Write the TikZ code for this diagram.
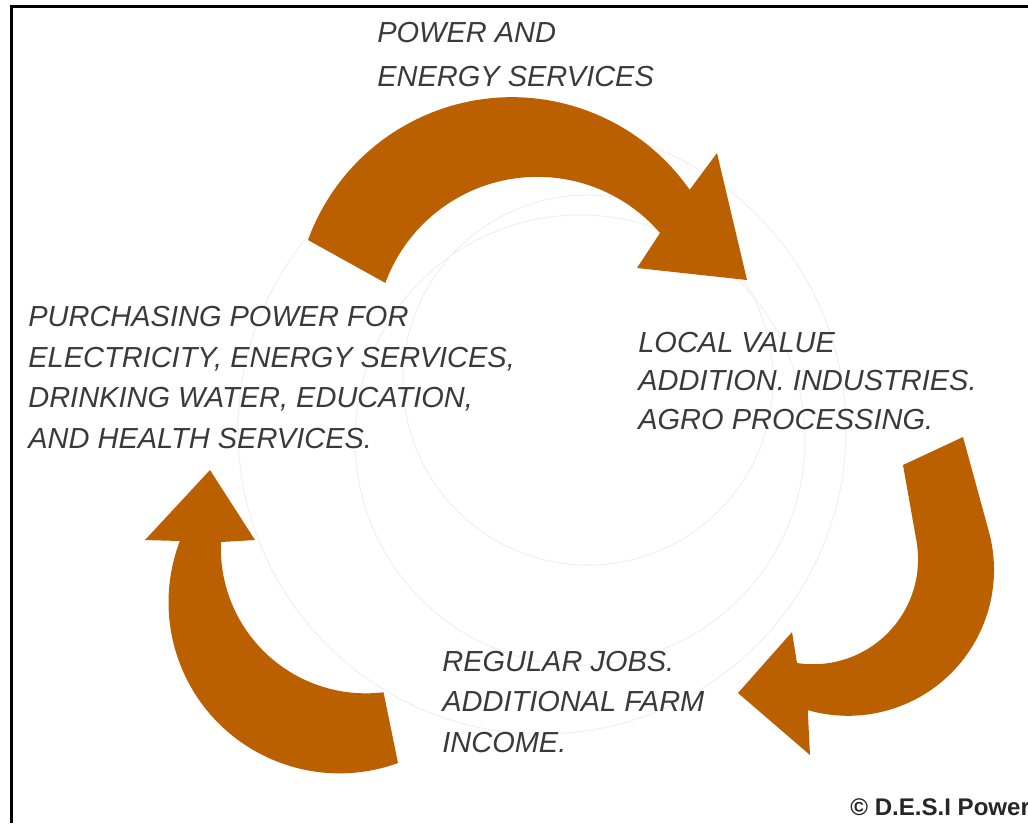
\documentclass[tikz,border=0pt]{standalone}
\usepackage{fontspec}
\setmainfont{Liberation Sans}
\usepackage{tikz}
\definecolor{CycleBrown}{RGB}{187,96,0}
\definecolor{HandGray}{RGB}{58,58,58}

\begin{document}
\begin{tikzpicture}[x=0.02cm, y=-0.02cm,
        handtext/.style={anchor=west, inner sep=0pt, align=left, text=HandGray,
            font=\fontsize{16.5}{23}\selectfont\itshape},
        cyclearrow/.style={fill=CycleBrown}]
        \useasboundingbox (0,0) rectangle (1028,823);

        % faint rings behind the cycle
        \foreach \cx/\cy/\r in {588/380/185, 580/440/225, 542/430/304} {
            \draw[black!6, line width=0.6pt] (\cx,\cy) circle (\r);
        }

        % the three arrows
        \fill[cyclearrow] (308,240) arc[start angle=-160, end angle=-35, radius=217]
            -- (717,153) -- (747,280) -- (637,268) -- (660,233)
            arc[start angle=-40.8, end angle=-159.8, radius=162] -- cycle;
        \fill[cyclearrow] (963,437) -- (989,532) arc[start angle=-15, end angle=106, radius=146]
            -- (810,755) -- (738,693) -- (792,632) -- (797,663)
            arc[start angle=98.8, end angle=-10, radius=105] -- (903,465) -- cycle;
        \fill[cyclearrow] (398,763) arc[start angle=70, end angle=201, radius=171]
            -- (145,540) -- (210,470) -- (255,540) -- (221,542)
            arc[start angle=182.5, end angle=83, radius=145] -- cycle;

        \node[handtext, font=\fontsize{16.5}{25.5}\selectfont\itshape] (power) at (377,54.5)
            {POWER AND\\ENERGY SERVICES};
        \node[handtext] (purchasing) at (28,377.5)
            {PURCHASING POWER FOR\\ELECTRICITY, ENERGY SERVICES,\\DRINKING WATER, EDUCATION,\\AND HEALTH SERVICES.};
        \node[handtext, font=\fontsize{16.5}{22}\selectfont\itshape] (localvalue) at (638,381)
            {LOCAL VALUE\\ADDITION. INDUSTRIES.\\AGRO PROCESSING.};
        \node[handtext] (jobs) at (442,702)
            {REGULAR JOBS.\\ADDITIONAL FARM\\INCOME.};

        \node[anchor=west, inner sep=0pt, text=black!85, font=\fontsize{13.7}{15}\selectfont\bfseries] (credit) at (850,807)
            {\textcopyright\ D.E.S.I Power};

        % frame
        \draw[line width=1.4pt] (1028,6.5) -- (11.5,6.5) -- (11.5,823);
    \end{tikzpicture}
\end{document}
